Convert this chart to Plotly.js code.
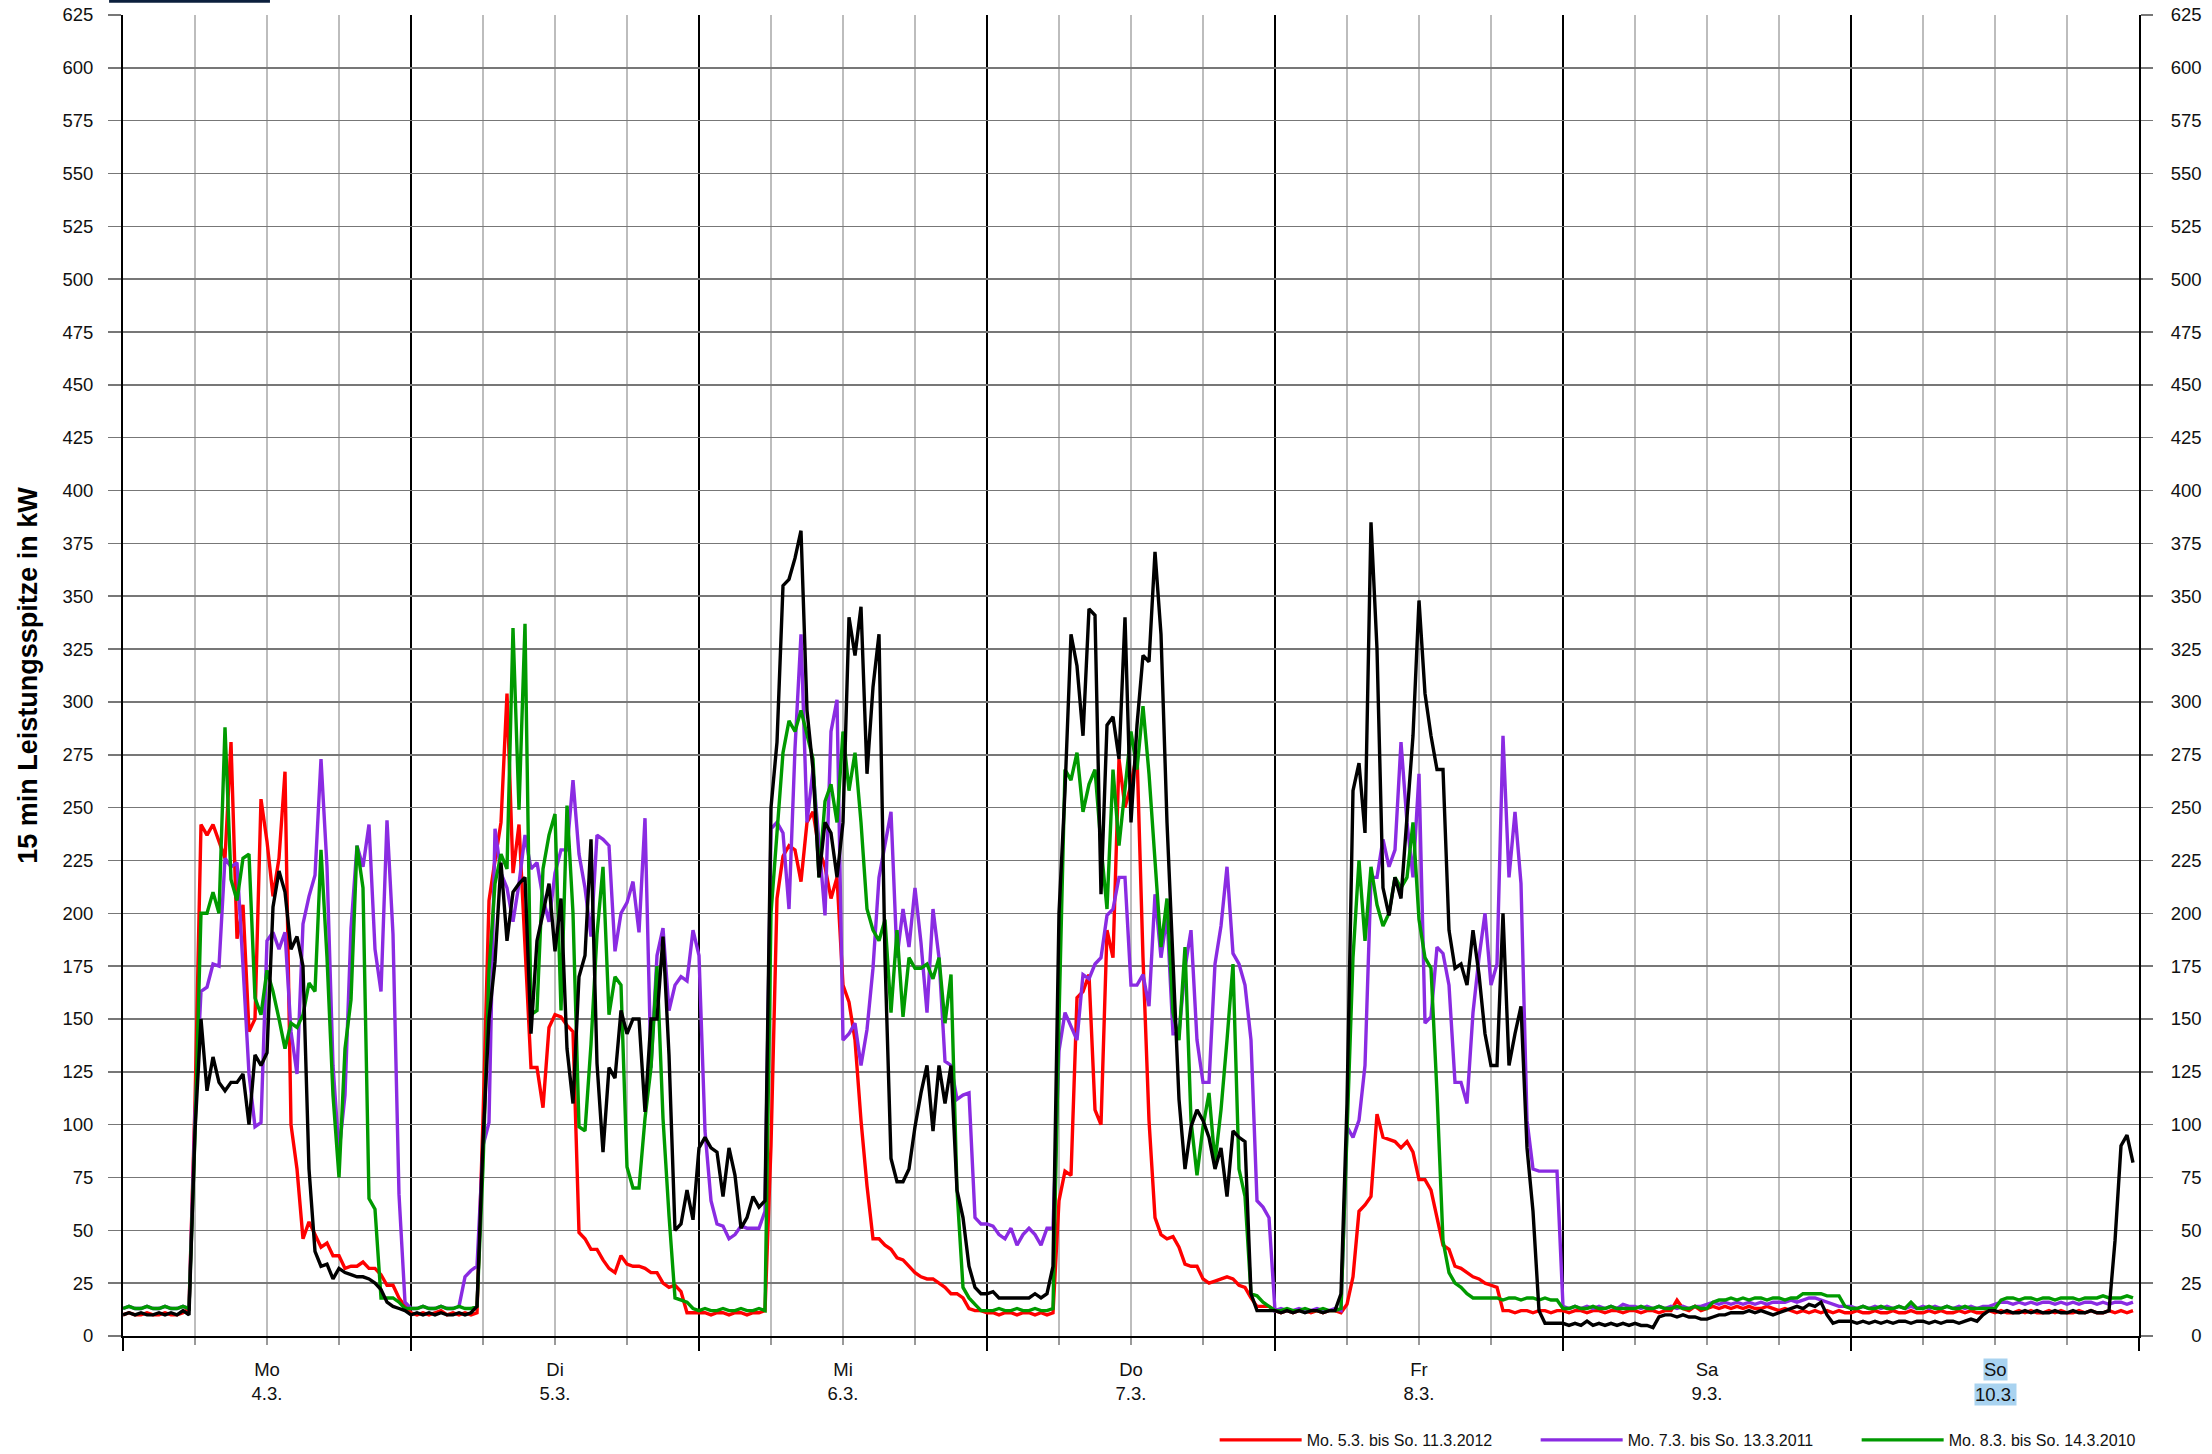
<!DOCTYPE html>
<html><head><meta charset="utf-8">
<script src="https://cdn.plot.ly/plotly-3.0.1.min.js"></script>
<style>html,body{margin:0;padding:0;background:#fff}#chart{width:2212px;height:1454px}</style>
</head><body><div id="chart"></div>
<script>
// ---- categories / labels ----
const dayNames = ['Mo','Di','Mi','Do','Fr','Sa','So'];
const dayDates = ['4.3.','5.3.','6.3.','7.3.','8.3.','9.3.','10.3.'];
const yTickValues = [0,25,50,75,100,125,150,175,200,225,250,275,300,325,350,375,400,425,450,475,500,525,550,575,600,625];
const legendRed = 'Mo. 5.3. bis So. 11.3.2012';
const legendPurple = 'Mo. 7.3. bis So. 13.3.2011';
const legendGreen = 'Mo. 8.3. bis So. 14.3.2010';
const yTitle = '15 min Leistungsspitze in kW';
const stepHours = 0.5; // one value per half hour, Mo 0:00 ... So 23:30

// ---- series values (kW), 48 per day: Mo, Di, Mi, Do, Fr, Sa, So ----
const red = [
 10,11,10,10,11,10,10,11,10,10,11,13, 110,242,237,242,234,226,281,188,204,144,150,254,234,208,226,267,100,79,46,54,48,42,44,38,38,32,33,33,35,32,32,29,24,24,18,14,
 11,10,11,10,11,12,10,11,10,11,10,11, 103,206,225,243,304,219,242,184,127,127,108,146,152,151,147,144,49,46,41,41,36,32,30,38,34,33,33,32,30,30,25,23,24,21,11,11,
 11,11,10,11,11,10,11,11,10,11,11,12, 90,207,227,232,230,215,243,248,230,222,207,217,166,158,140,102,71,46,46,43,41,37,36,33,30,28,27,27,25,23,20,20,18,13,12,12,
 11,11,10,11,11,10,11,11,10,11,10,11, 64,78,76,160,163,171,107,100,192,179,273,250,261,276,179,102,56,48,46,47,42,34,33,33,27,25,26,27,28,27,24,23,18,14,14,14,
 12,11,12,11,12,12,11,12,11,12,12,11, 15,28,59,62,66,105,94,93,92,89,92,87,74,74,69,56,43,41,33,32,30,28,27,25,24,23,12,12,11,12,12,11,12,12,11,12,
 12,11,12,12,11,12,12,11,12,12,11,12, 12,11,12,12,11,12,12,17,13,12,14,12, 13,14,13,14,13,14,13,14,13,13,14,13, 12,13,12,11,12,11,12,11,12,11,12,11,
 11,12,11,11,12,11,11,12,11,11,12,11, 11,12,11,12,11,11,12,11,12,11,11,12, 11,12,11,11,12,11,12,11,11,12,11,12, 11,11,12,11,12,11,11,12,11,12,11,12
];
const purple = [
 13,14,13,13,14,13,13,14,13,13,14,13, 105,163,165,176,175,226,222,224,175,124,99,101,187,191,183,191,144,124,195,208,218,273,222,128,87,114,193,232,222,242,183,163,244,190,67,16,
 13,13,14,13,13,14,13,13,14,28,31,33, 90,101,240,219,212,196,214,237,221,224,207,196,219,230,230,263,228,212,189,237,235,232,182,200,205,215,191,245,127,180,193,154,166,170,168,192,
 180,97,64,53,52,46,48,52,51,51,51,59, 240,243,238,202,278,332,243,268,232,199,286,301,140,143,148,128,145,174,217,232,248,179,202,184,212,186,153,202,179,130,128,112,114,115,56,53,
 53,52,48,46,51,43,48,51,48,43,51,51, 135,153,146,140,171,169,176,179,199,202,217,217,166,166,171,156,209,179,199,143,143,174,192,140,120,120,176,194,222,181,176,166,140,64,61,56,
 12,13,12,12,13,12,12,13,12,12,13,12, 99,94,102,128,217,217,235,222,230,281,243,217,266,148,151,184,181,166,120,120,110,153,179,200,166,176,284,217,248,214,102,79,78,78,78,78,
 14,13,14,13,14,13,14,13,14,13,15,14, 14,13,14,13,14,13,14,13,14,13,14,14, 15,16,15,16,15,16,15,16,15,16,15,16, 16,16,17,16,17,18,18,17,16,15,14,14,
 14,13,14,13,14,13,14,13,14,13,14,13, 14,13,14,13,14,13,14,13,14,13,14,14, 15,16,16,15,16,15,16,15,16,16,15,16, 15,16,15,16,16,15,16,15,16,16,15,16
];
const green = [
 13,14,13,13,14,13,13,14,13,13,14,13, 95,200,200,210,200,288,216,206,226,228,160,152,173,163,150,136,148,146,152,167,163,230,179,114,75,136,159,232,212,65,60,18,18,18,16,13,
 13,13,14,13,13,14,13,13,14,13,13,14, 80,173,214,228,221,335,249,337,152,154,221,237,247,154,251,200,99,97,138,190,222,152,170,166,80,70,70,103,127,175,103,57,18,17,16,13,
 12,13,12,12,13,12,12,13,12,12,13,12, 200,238,276,291,286,296,284,273,217,253,261,243,286,258,276,243,202,192,187,197,153,192,151,179,174,174,176,169,179,148,171,69,23,18,15,12,
 12,12,13,12,12,13,12,12,13,12,12,13, 150,268,263,276,248,261,268,232,202,268,232,258,286,268,298,266,222,184,207,153,140,184,102,76,99,115,82,107,140,176,79,66,20,19,16,14,
 12,12,13,12,12,13,12,12,13,12,12,13, 100,179,225,187,222,204,194,200,217,212,217,243,197,179,174,115,45,30,25,23,20,18,18,18,18,18,17,18,18,17,18,18,17,18,17,17,
 13,13,14,13,13,14,13,13,14,13,13,13, 13,14,13,13,14,13,13,14,13,13,14,13, 13,16,17,17,18,17,18,17,18,18,17,18, 18,17,18,18,20,20,20,20,19,19,19,14,
 13,13,14,13,13,14,13,13,14,13,16,13, 13,14,13,13,14,13,13,14,13,13,13,13, 13,17,18,18,17,18,18,17,18,18,17,18, 18,18,17,18,18,18,19,18,18,18,19,18
];
const black = [
 10,11,10,11,10,10,11,10,11,10,12,10, 97,150,116,132,120,116,120,120,124,100,133,128,134,203,220,210,183,189,175,79,40,33,34,27,32,30,29,28,28,27,25,22,16,14,13,12,
 10,11,10,11,10,11,10,10,11,10,11,14, 92,150,177,224,187,210,214,217,143,187,200,214,182,207,136,110,170,180,235,129,87,127,122,154,143,150,150,106,150,150,189,133,50,53,69,55,
 89,94,89,87,66,89,76,51,56,66,61,64, 250,281,355,358,368,381,296,268,217,243,238,217,243,340,322,345,266,307,332,179,84,73,73,79,99,115,128,97,128,110,128,69,56,33,23,20,
 20,21,18,18,18,18,18,18,20,18,20,33, 200,258,332,317,284,344,341,209,289,293,273,340,243,289,322,319,371,332,243,179,112,79,99,107,102,94,79,89,66,97,94,92,20,12,12,12,
 12,11,12,11,12,11,12,12,11,12,12,20, 110,258,271,238,385,325,212,199,217,207,243,284,348,304,284,268,268,192,174,176,166,192,171,143,128,128,200,128,143,156,89,59,12,6,6,6,
 6,5,6,5,7,5,6,5,6,5,6,5, 6,5,5,4,9,10,10,9,10,9,9,8, 8,9,10,10,11,11,11,12,11,12,11,10, 11,12,13,14,13,15,14,16,10,6,7,7,
 7,6,7,6,7,6,7,6,7,7,6,7, 7,6,7,6,7,7,6,7,8,7,10,12, 12,11,12,11,11,12,11,12,11,11,12,11, 11,12,11,11,12,11,11,12,45,90,95,82
];

[['red',red],['purple',purple],['green',green],['black',black]].forEach(([n,a])=>{
  if(a.length !== 336) throw new Error(n+' has '+a.length+' values');
});

const hours = red.map((_,i)=>i*stepHours);
const FONT = 'Liberation Sans, Arial, Helvetica, sans-serif';

function line(y, color, name, showlegend){
  return {x: hours, y: y, type:'scatter', mode:'lines', name: name, showlegend: showlegend,
          line:{color: color, width: 3.4}, hoverinfo:'skip'};
}
const traces = [
  line(red, '#ff0000', legendRed, true),
  line(purple, '#8a2be2', legendPurple, true),
  line(green, '#009a00', legendGreen, true),
  line(black, '#000000', 'Mo. 4.3. bis So. 10.3.2013', false),
  {x:[], y:[], xaxis:'x2', yaxis:'y2', type:'scatter', mode:'lines', showlegend:false, hoverinfo:'skip'}
];

const FS = '\u2007';
const rightText = yTickValues.map(v => { let s = String(v); while (s.length < 3) s = FS + s; return s; });
const labelIdx = [0,1,2,3,4,5];
const lastDay = 6;

const layout = {
  width: 2212, height: 1454,
  margin: {l:123, r:73, t:15, b:118, pad:0, autoexpand:false},
  paper_bgcolor:'#ffffff', plot_bgcolor:'#ffffff',
  font: {family: FONT, size: 18.5, color:'#111'},
  showlegend: true,
  legend: {orientation:'h', x:0.5415, xanchor:'left', y:-0.0787, yanchor:'middle',
           font:{family: FONT, size:16, color:'#111'}, bgcolor:'rgba(0,0,0,0)',
           itemwidth: 82, entrywidth: 224, entrywidthmode:'pixels', traceorder:'normal'},
  xaxis: {range:[0,168], tickmode:'linear', tick0:0, dtick:24, ticks:'outside', ticklen:13,
          tickcolor:'#000', tickwidth:1.5, showticklabels:false, showgrid:true, gridcolor:'#000',
          gridwidth:1.5, showline:true, linecolor:'#000', linewidth:2, zeroline:false, fixedrange:true,
          minor:{tick0:0, dtick:6, ticks:'outside', ticklen:7, tickcolor:'#999', tickwidth:1.5,
                 showgrid:true, gridcolor:'#bdbdbd', gridwidth:1.5}},
  xaxis2: {overlaying:'x', anchor:'y', side:'bottom', range:[0,168], tickmode:'array',
           tickvals: labelIdx.map(i => i*24+12),
           ticktext: labelIdx.map(i => dayNames[i] + '<br>' + dayDates[i]),
           ticks:'', showgrid:false, zeroline:false, showline:false, fixedrange:true,
           tickfont:{family: FONT, size:18.5, color:'#111'}, ticklabelstandoff: 20},
  yaxis: {range:[0,625], tickmode:'array', tickvals: yTickValues, ticktext: yTickValues.map(String),
          ticks:'outside', ticklen:13, tickcolor:'#777', tickwidth:1.5, showgrid:true, gridcolor:'#777',
          gridwidth:1.5, showline:true, linecolor:'#000', linewidth:2, zeroline:false, fixedrange:true,
          tickfont:{family: FONT, size:18.5, color:'#111'}, ticklabelstandoff: 11,
          title:{text: yTitle, font:{family: FONT, size:27, color:'#000', weight:'bold'}, standoff: 17}},
  yaxis2: {overlaying:'y', anchor:'x', side:'right', range:[0,625], tickmode:'array', tickvals: yTickValues,
           ticktext: rightText, ticks:'outside', ticklen:12, tickcolor:'#777', tickwidth:1.5,
           showgrid:false, showline:true, linecolor:'#000', linewidth:2, zeroline:false, fixedrange:true,
           tickfont:{family: FONT, size:18.5, color:'#111'}, ticklabelstandoff: 14},
  annotations: [
    {x: lastDay*24+12, xref:'x', y:-0.0250, yref:'paper', yanchor:'middle', xanchor:'center',
     text: dayNames[lastDay], showarrow:false, bgcolor:'#a9d3f0', borderpad:0,
     font:{family: FONT, size:18.5, color:'#111'}},
    {x: lastDay*24+12, xref:'x', y:-0.0445, yref:'paper', yanchor:'middle', xanchor:'center',
     text: dayDates[lastDay], showarrow:false, bgcolor:'#a9d3f0', borderpad:0,
     font:{family: FONT, size:18.5, color:'#111'}}
  ],
  shapes: [
    {type:'rect', xref:'paper', yref:'paper', x0:-0.0069, x1:0.0729, y0:1.0092, y1:1.03,
     fillcolor:'#0b1f3d', line:{width:0}, layer:'above'}
  ]
};

Plotly.newPlot('chart', traces, layout, {staticPlot:true, displayModeBar:false});
</script>
</body></html>
